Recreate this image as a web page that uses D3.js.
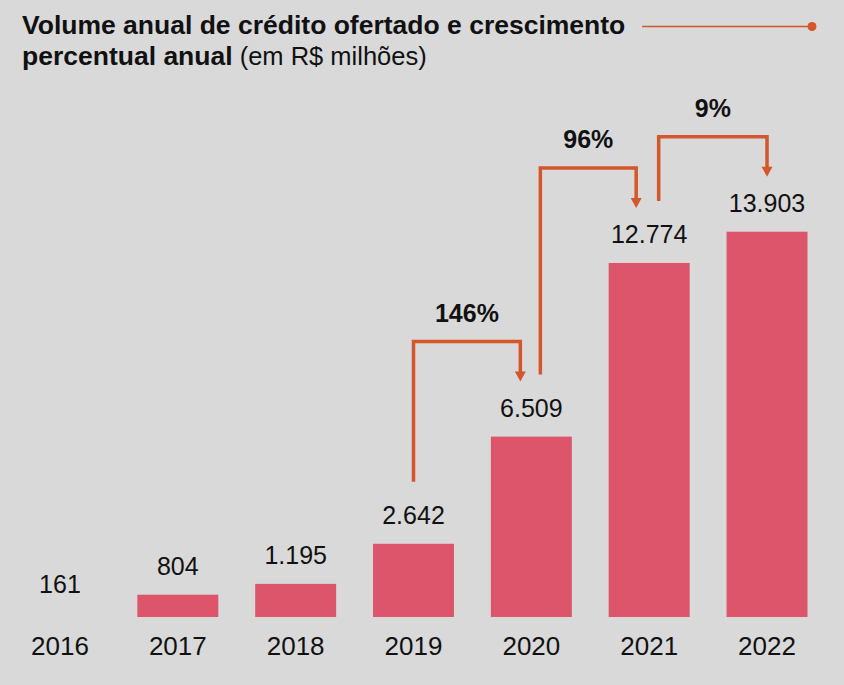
<!DOCTYPE html>
<html>
<head>
<meta charset="utf-8">
<script src="https://cdn.jsdelivr.net/npm/d3@7"></script>
<style>
  html, body { margin: 0; padding: 0; background: #d9d9da; }
  svg { display: block; }
</style>
</head>
<body>
<div id="chart"></div>
<script>
// ---- data ----
const years = ["2016", "2017", "2018", "2019", "2020", "2021", "2022"];
const values = [161, 804, 1195, 2642, 6509, 12774, 13903];
const growthFrom = ["2019", "2020", "2021"];
const growthTo = ["2020", "2021", "2022"];
const growthLabels = ["146%", "96%", "9%"];
// years whose bar is not drawn in the source
const hiddenBars = ["2016"];

// ---- layout ----
const W = 844, H = 685;
const arrowStartDx = [0, 9, 9.5];
const arrowEndDx = [-11, -13, 0];
const C = { bg: "#d9d9da", bar: "#dc556b", accent: "#d4562b", text: "#111111" };

const fmt = d3.formatLocale({ decimal: ",", thousands: ".", grouping: [3], currency: ["R$", ""] }).format(",d");

const svg = d3.select("#chart").append("svg").attr("width", W).attr("height", H);
svg.append("rect").attr("width", W).attr("height", H).attr("fill", C.bg);

const x = d3.scaleBand().domain(years).range([1, 826]).paddingInner(0.313).paddingOuter(0.157);
const y = d3.scaleLinear().domain([0, 14000]).range([617, 229]);

const data = years.map((yr, i) => ({ year: yr, value: values[i] }));

// bars
svg.append("g").selectAll("rect")
  .data(data.filter(d => !hiddenBars.includes(d.year)))
  .join("rect")
  .attr("x", d => x(d.year))
  .attr("width", x.bandwidth())
  .attr("y", d => y(d.value))
  .attr("height", d => y(0) - y(d.value))
  .attr("fill", C.bar);

// value labels
svg.append("g").selectAll("text")
  .data(data)
  .join("text")
  .attr("x", d => x(d.year) + x.bandwidth() / 2)
  .attr("y", d => y(d.value) - 20)
  .attr("text-anchor", "middle")
  .attr("font-family", "'Liberation Sans', Arial, sans-serif")
  .attr("font-size", 25)
  .attr("fill", C.text)
  .text(d => fmt(d.value));

// x axis labels (no line / ticks)
const xAxis = d3.axisBottom(x).tickSize(0).tickPadding(0);
const gx = svg.append("g").attr("transform", `translate(0, ${y(0)})`).call(xAxis);
gx.select(".domain").remove();
gx.selectAll("text")
  .attr("dy", null)
  .attr("y", 38)
  .attr("font-family", "'Liberation Sans', Arial, sans-serif")
  .attr("font-size", 26)
  .attr("fill", C.text);

// growth arrows
const valOf = yr => values[years.indexOf(yr)];
const cx = yr => x(yr) + x.bandwidth() / 2;
const ga = svg.append("g");
growthLabels.forEach((lab, i) => {
  const sx = cx(growthFrom[i]) + arrowStartDx[i];
  const ex = cx(growthTo[i]) + arrowEndDx[i];
  const sy = y(valOf(growthFrom[i])) - 62;
  const top = y(valOf(growthTo[i])) - 95;
  const tip = y(valOf(growthTo[i])) - 55;
  ga.append("path")
    .attr("d", `M${sx},${sy} V${top} H${ex} V${tip - 8}`)
    .attr("fill", "none")
    .attr("stroke", C.accent)
    .attr("stroke-width", 3.5);
  ga.append("path")
    .attr("d", `M${ex - 5.5},${tip - 10} L${ex + 5.5},${tip - 10} L${ex},${tip} Z`)
    .attr("fill", C.accent);
  ga.append("text")
    .attr("x", (sx + ex) / 2)
    .attr("y", top - 20)
    .attr("text-anchor", "middle")
    .attr("font-family", "'Liberation Sans', Arial, sans-serif")
    .attr("font-weight", "bold")
    .attr("font-size", 25)
    .attr("fill", C.text)
    .text(lab);
});

// title
const t = svg.append("g").attr("font-family", "'Liberation Sans', Arial, sans-serif").attr("fill", C.text);
t.append("text").attr("x", 22).attr("y", 34).attr("font-size", 26.5).attr("font-weight", "bold")
  .text("Volume anual de crédito ofertado e crescimento");
const l2 = t.append("text").attr("x", 22).attr("y", 65).attr("font-size", 26.5);
l2.append("tspan").attr("font-weight", "bold").text("percentual anual");
l2.append("tspan").attr("font-size", 25.5).text(" (em R$ milhões)");

// decorative line with dot
svg.append("line").attr("x1", 642).attr("x2", 812).attr("y1", 26.5).attr("y2", 26.5)
  .attr("stroke", C.accent).attr("stroke-width", 1.6);
svg.append("circle").attr("cx", 812).attr("cy", 26.5).attr("r", 4.5).attr("fill", C.accent);
</script>
</body>
</html>
